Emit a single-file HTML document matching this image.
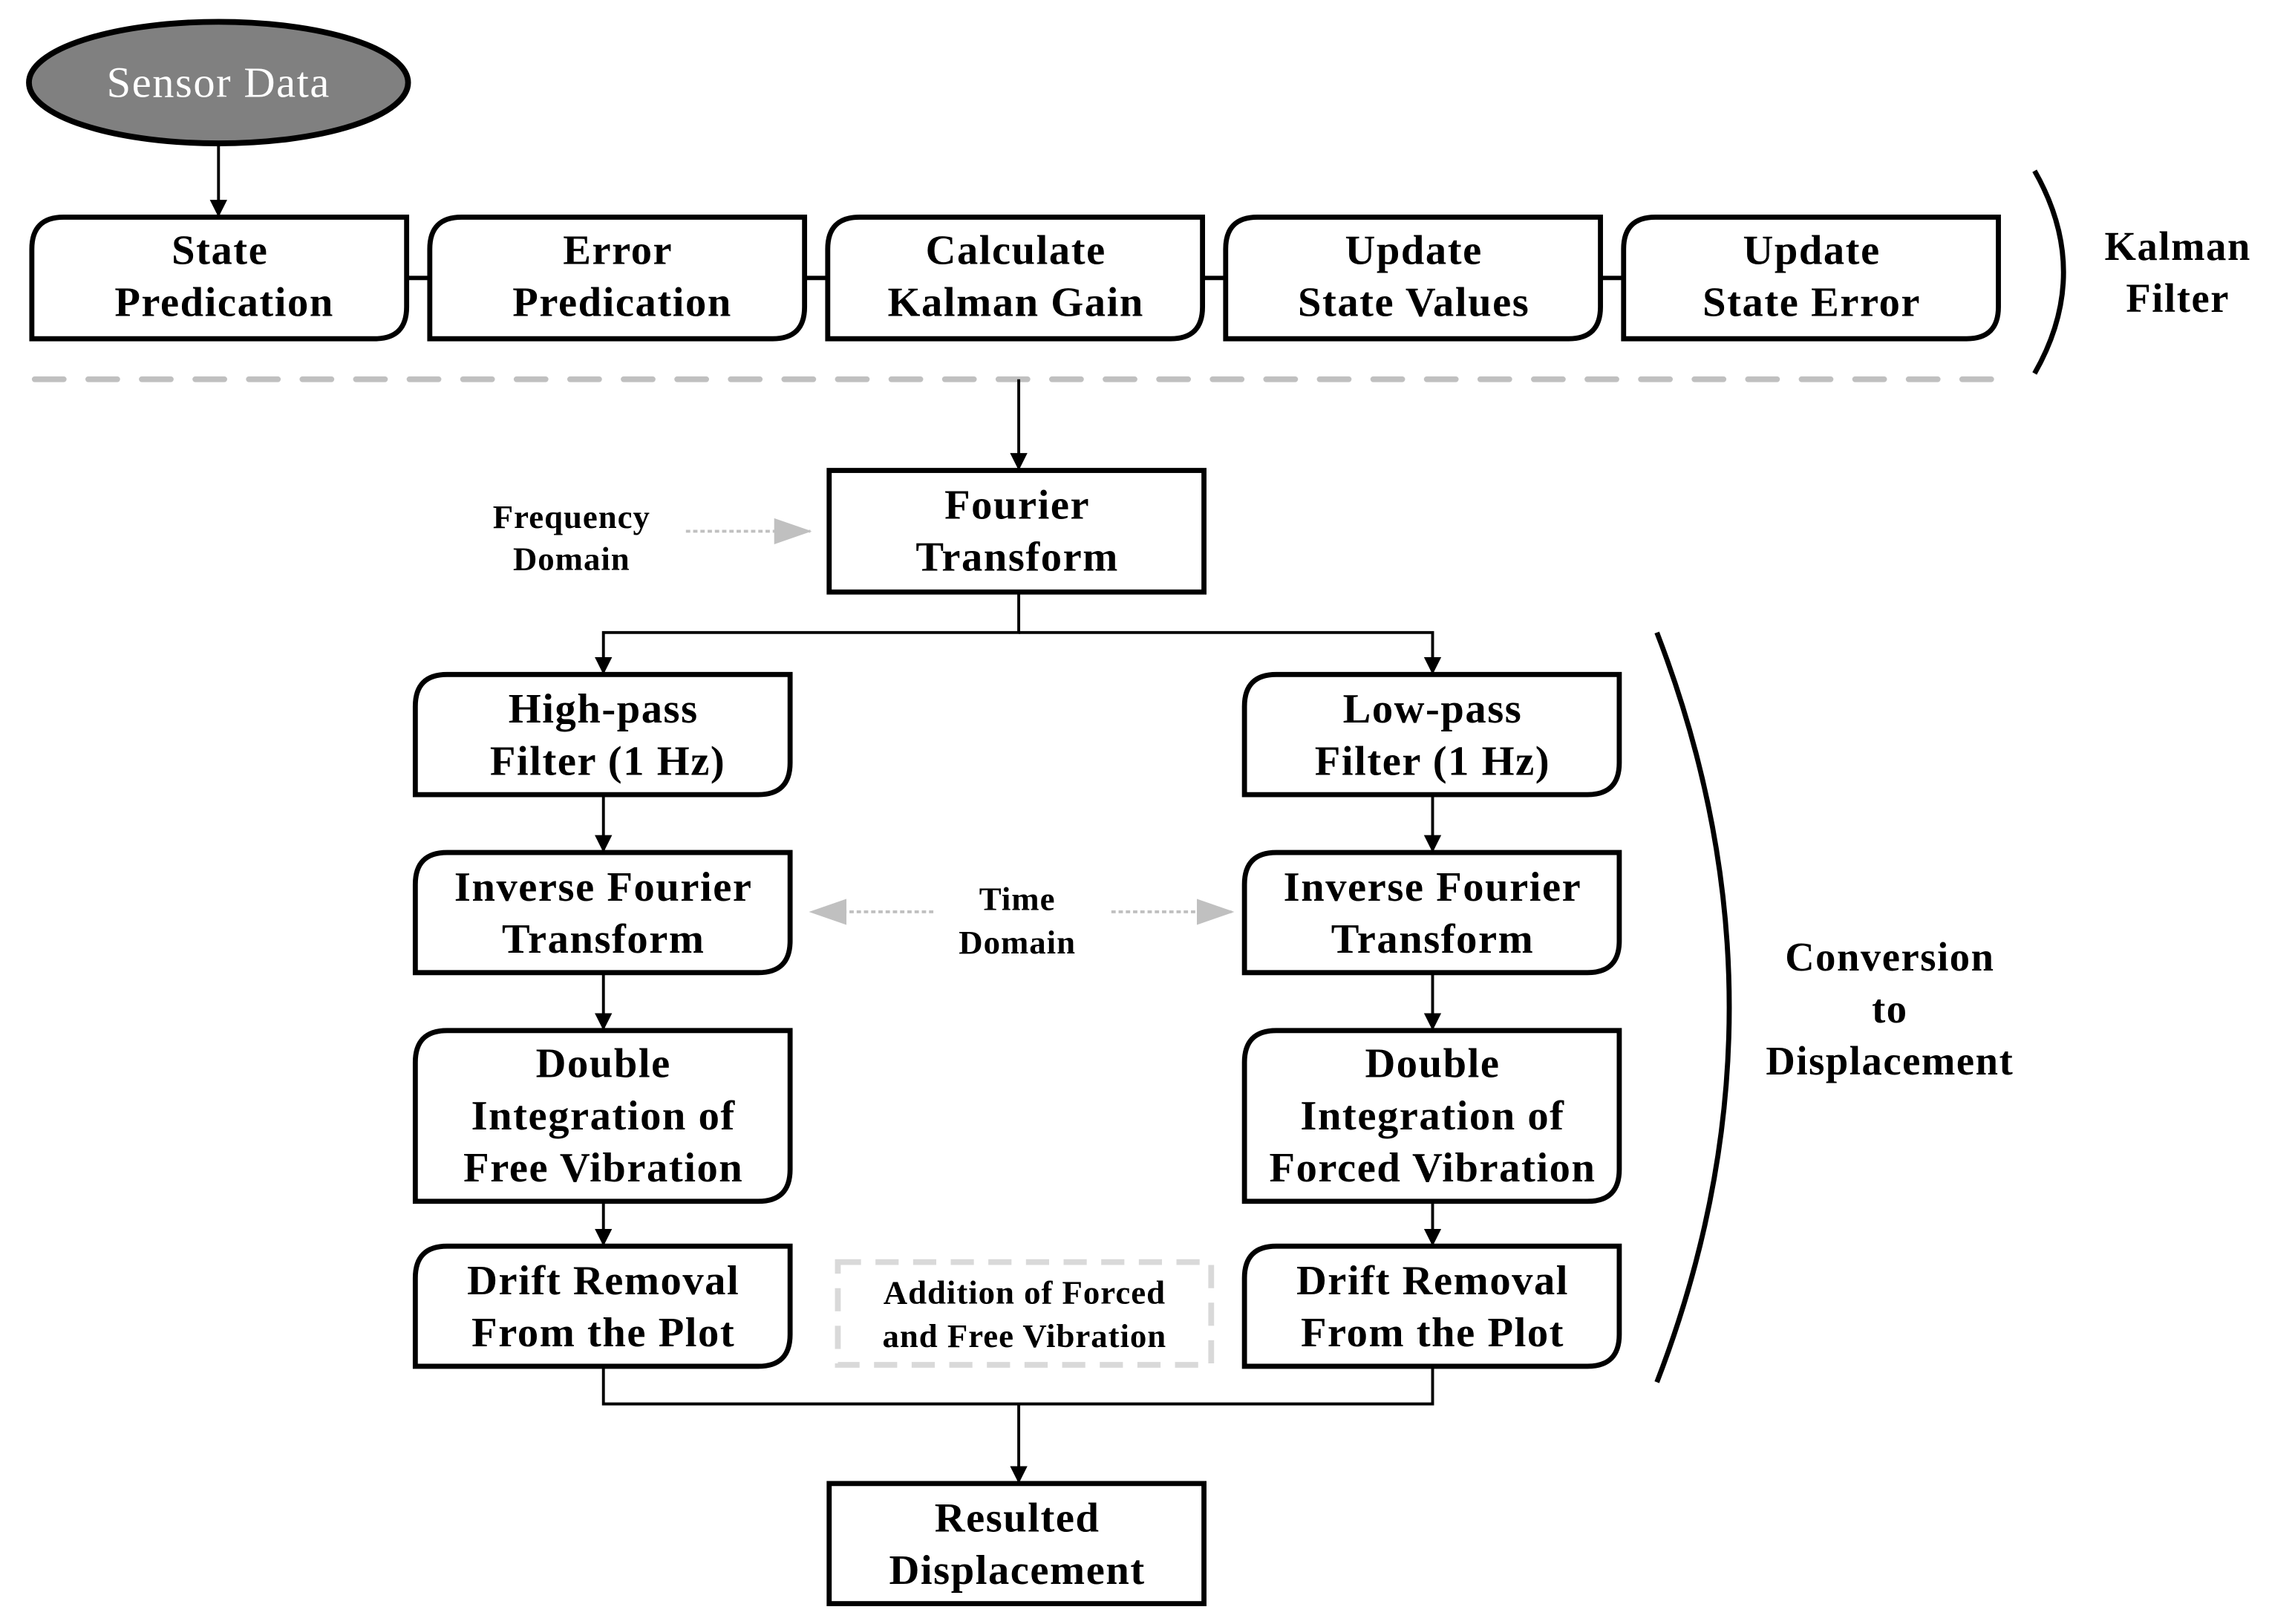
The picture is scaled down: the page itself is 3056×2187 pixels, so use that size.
<!DOCTYPE html>
<html><head><meta charset="utf-8"><style>
html,body{margin:0;padding:0;background:#fff;}
svg{display:block;}
text{font-family:"Liberation Serif",serif;text-anchor:middle;dominant-baseline:central;}
.b{font-size:29px;font-weight:bold;letter-spacing:0.8px;fill:#000;}
.s{font-size:23px;font-weight:bold;letter-spacing:0.5px;fill:#000;}
.l{font-size:28px;font-weight:bold;letter-spacing:0.8px;fill:#000;}
</style></head><body>
<svg width="3056" height="2187" viewBox="0 0 1568 1122" xmlns="http://www.w3.org/2000/svg">
<defs>
<marker id="a" markerWidth="12" markerHeight="16" refX="11" refY="8" orient="auto" markerUnits="userSpaceOnUse"><path d="M0,2 L12,8 L0,14 z" fill="#000"/></marker>
<marker id="g" markerWidth="26" markerHeight="20" refX="25" refY="10" orient="auto" markerUnits="userSpaceOnUse"><path d="M0,1 L26,10 L0,19 z" fill="#c0c0c0"/></marker>
</defs>
<g stroke="#000" stroke-width="3" fill="none">
<ellipse cx="151" cy="57" rx="131" ry="42" fill="#808080" stroke-width="4"/>
<line x1="151" y1="99" x2="151" y2="149" marker-end="url(#a)" stroke-width="2"/>
<line x1="281" y1="192" x2="297" y2="192"/>
<line x1="556" y1="192" x2="572" y2="192"/>
<line x1="831" y1="192" x2="847" y2="192"/>
<line x1="1106" y1="192" x2="1122" y2="192"/>
</g>
<g stroke="#000" stroke-width="3.5" fill="#fff">
<path d="M22,234 V172 Q22,150 44,150 H281 V212 Q281,234 259,234 Z"/>
<path d="M297,234 V172 Q297,150 319,150 H556 V212 Q556,234 534,234 Z"/>
<path d="M572,234 V172 Q572,150 594,150 H831 V212 Q831,234 809,234 Z"/>
<path d="M847,234 V172 Q847,150 869,150 H1106 V212 Q1106,234 1084,234 Z"/>
<path d="M1122,234 V172 Q1122,150 1144,150 H1381 V212 Q1381,234 1359,234 Z"/>
</g>
<text x="151" y="57" class="b" style="fill:#fff;font-weight:normal;font-size:30px">Sensor Data</text>
<text class="b" x="152" y="173">State</text><text class="b" x="155" y="209">Predication</text>
<text class="b" x="427" y="173">Error</text><text class="b" x="430" y="209">Predication</text>
<text class="b" x="702" y="173">Calculate</text><text class="b" x="702" y="209">Kalman Gain</text>
<text class="b" x="977" y="173">Update</text><text class="b" x="977" y="209">State Values</text>
<text class="b" x="1252" y="173">Update</text><text class="b" x="1252" y="209">State Error</text>
<path d="M1406,118 Q1446,188 1406,258" stroke="#000" stroke-width="3.5" fill="none"/>
<text class="l" x="1505" y="170">Kalman</text><text class="l" x="1505" y="206">Filter</text>
<line x1="24" y1="262" x2="1380" y2="262" stroke="#c0c0c0" stroke-width="4" stroke-linecap="round" stroke-dasharray="20 17"/>
<g stroke="#000" stroke-width="2" fill="none">
<line x1="704" y1="262" x2="704" y2="324" marker-end="url(#a)"/>
<polyline points="704,409 704,437 417,437 417,465" marker-end="url(#a)"/>
<polyline points="704,437 990,437 990,465" marker-end="url(#a)"/>
<line x1="417" y1="549" x2="417" y2="588" marker-end="url(#a)"/>
<line x1="417" y1="672" x2="417" y2="711" marker-end="url(#a)"/>
<line x1="417" y1="830" x2="417" y2="860" marker-end="url(#a)"/>
<line x1="990" y1="549" x2="990" y2="588" marker-end="url(#a)"/>
<line x1="990" y1="672" x2="990" y2="711" marker-end="url(#a)"/>
<line x1="990" y1="830" x2="990" y2="860" marker-end="url(#a)"/>
<polyline points="417,944 417,970 990,970 990,944"/>
<line x1="704" y1="970" x2="704" y2="1024" marker-end="url(#a)"/>
</g>
<g stroke="#c0c0c0" stroke-width="2" fill="none" stroke-dasharray="3 2">
<line x1="474" y1="367" x2="560" y2="367" marker-end="url(#g)"/>
<line x1="645" y1="630" x2="560" y2="630" marker-end="url(#g)"/>
<line x1="768" y1="630" x2="852" y2="630" marker-end="url(#g)"/>
</g>
<text class="s" x="395" y="357">Frequency</text><text class="s" x="395" y="386">Domain</text>
<text class="s" x="703" y="621">Time</text><text class="s" x="703" y="651">Domain</text>
<g stroke="#000" stroke-width="3.5" fill="#fff">
<rect x="573" y="325" width="259" height="84"/>
<rect x="573" y="1025" width="259" height="83"/>
<path d="M287,549 V488 Q287,466 309,466 H546 V527 Q546,549 524,549 Z"/>
<path d="M287,672 V611 Q287,589 309,589 H546 V650 Q546,672 524,672 Z"/>
<path d="M287,830 V734 Q287,712 309,712 H546 V808 Q546,830 524,830 Z"/>
<path d="M287,944 V883 Q287,861 309,861 H546 V922 Q546,944 524,944 Z"/>
<path d="M860,549 V488 Q860,466 882,466 H1119 V527 Q1119,549 1097,549 Z"/>
<path d="M860,672 V611 Q860,589 882,589 H1119 V650 Q1119,672 1097,672 Z"/>
<path d="M860,830 V734 Q860,712 882,712 H1119 V808 Q1119,830 1097,830 Z"/>
<path d="M860,944 V883 Q860,861 882,861 H1119 V922 Q1119,944 1097,944 Z"/>
</g>
<rect x="579" y="872" width="258" height="71" fill="none" stroke="#d9d9d9" stroke-width="4" stroke-dasharray="16 10"/>
<text class="b" x="703" y="349">Fourier</text><text class="b" x="703" y="385">Transform</text>
<text class="b" x="703" y="1049">Resulted</text><text class="b" x="703" y="1085">Displacement</text>
<text class="b" x="417" y="490">High-pass</text><text class="b" x="420" y="526">Filter (1 Hz)</text>
<text class="b" x="417" y="613">Inverse Fourier</text><text class="b" x="417" y="649">Transform</text>
<text class="b" x="417" y="735">Double</text><text class="b" x="417" y="771">Integration of</text><text class="b" x="417" y="807">Free Vibration</text>
<text class="b" x="417" y="885">Drift Removal</text><text class="b" x="417" y="921">From the Plot</text>
<text class="b" x="990" y="490">Low-pass</text><text class="b" x="990" y="526">Filter (1 Hz)</text>
<text class="b" x="990" y="613">Inverse Fourier</text><text class="b" x="990" y="649">Transform</text>
<text class="b" x="990" y="735">Double</text><text class="b" x="990" y="771">Integration of</text><text class="b" x="990" y="807">Forced Vibration</text>
<text class="b" x="990" y="885">Drift Removal</text><text class="b" x="990" y="921">From the Plot</text>
<text class="s" x="708" y="893">Addition of Forced</text><text class="s" x="708" y="923">and Free Vibration</text>
<path d="M1145,437 Q1245,696 1145,955" stroke="#000" stroke-width="3.5" fill="none"/>
<text class="l" x="1306" y="661">Conversion</text><text class="l" x="1306" y="697">to</text><text class="l" x="1306" y="733">Displacement</text>
</svg>
</body></html>
